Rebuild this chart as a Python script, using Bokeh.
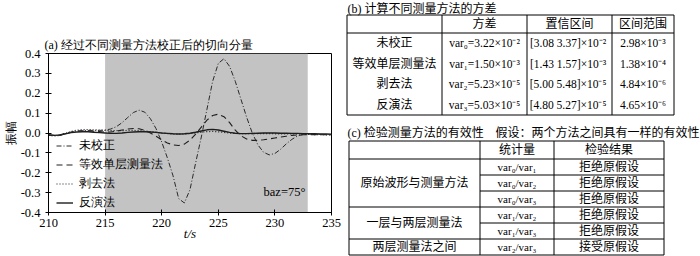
from bokeh.plotting import figure
from bokeh.models import (Range1d, FixedTicker, BoxAnnotation, Label, Legend,
                          LegendItem, ColumnDataSource, PrintfTickFormatter, Title)
from bokeh.layouts import row
from bokeh.core.properties import value
from bokeh.embed import file_html
from bokeh.resources import INLINE

# ---------------- data: panel (a) ----------------
t = [210.0, 210.5, 211.0, 211.5, 212.0, 212.5, 213.0, 213.5, 214.0, 214.5,
     215.0, 215.5, 216.0, 216.5, 217.0, 217.5, 218.0, 218.5, 219.0, 219.5,
     220.0, 220.5, 221.0, 221.5, 222.0, 222.5, 223.0, 223.5, 224.0, 224.5,
     225.0, 225.5, 226.0, 226.5, 227.0, 227.5, 228.0, 228.5, 229.0, 229.5,
     230.0, 230.5, 231.0, 231.5, 232.0, 232.5, 233.0, 233.5, 234.0, 234.5,
     235.0]

uncorrected = [-0.010, -0.013, -0.012, -0.004, 0.005, 0.010, 0.012, 0.013, 0.013, 0.013,
               0.015, 0.020, 0.032, 0.052, 0.078, 0.103, 0.115, 0.105, 0.072, 0.022,
               -0.045, -0.125, -0.215, -0.330, -0.352, -0.285, -0.150, -0.020, 0.120, 0.260,
               0.350, 0.374, 0.335, 0.260, 0.170, 0.080, 0.000, -0.060, -0.097, -0.110,
               -0.103, -0.082, -0.055, -0.032, -0.015, -0.007, -0.005, -0.006, -0.007, -0.008,
               -0.009]

single_layer = [-0.010, -0.012, -0.010, -0.003, 0.004, 0.008, 0.010, 0.010, 0.009, 0.007,
                0.005, 0.005, 0.009, 0.015, 0.020, 0.023, 0.021, 0.013, 0.000, -0.016,
                -0.034, -0.050, -0.060, -0.063, -0.056, -0.036, -0.006, 0.030, 0.065, 0.088,
                0.095, 0.082, 0.052, 0.014, -0.014, -0.030, -0.037, -0.037, -0.034, -0.030,
                -0.025, -0.020, -0.016, -0.012, -0.010, -0.009, -0.008, -0.008, -0.008, -0.009,
                -0.009]

stripping = [-0.012, -0.015, -0.012, -0.002, 0.008, 0.014, 0.017, 0.017, 0.016, 0.015,
             0.013, 0.012, 0.012, 0.012, 0.013, 0.013, 0.012, 0.010, 0.007, 0.004,
             0.000, -0.003, -0.005, -0.006, -0.005, -0.003, 0.000, 0.004, 0.007, 0.008,
             0.006, 0.003, 0.000, -0.002, -0.003, -0.003, -0.003, -0.003, -0.003, -0.003,
             -0.004, -0.004, -0.004, -0.005, -0.005, -0.006, -0.007, -0.008, -0.008, -0.009,
             -0.010]

inversion = [-0.010, -0.012, -0.010, -0.004, 0.002, 0.005, 0.006, 0.006, 0.004, 0.002,
             0.000, -0.002, -0.002, 0.000, 0.003, 0.005, 0.006, 0.006, 0.005, 0.003,
             0.000, -0.002, -0.004, -0.005, -0.004, -0.001, 0.004, 0.010, 0.016, 0.018,
             0.015, 0.009, 0.003, -0.001, -0.003, -0.003, -0.002, -0.001, 0.000, 0.000,
             0.000, -0.001, -0.001, -0.002, -0.002, -0.003, -0.004, -0.004, -0.005, -0.005,
             -0.006]

series_names = ["未校正", "等效单层测量法", "剥去法", "反演法"]
x_ticks = [210, 215, 220, 225, 230, 235]
y_ticks = [-0.4, -0.3, -0.2, -0.1, 0.0, 0.1, 0.2, 0.3, 0.4]
shade_start, shade_end = 215.0, 232.9
baz_text = "baz=75°"
title_a = "(a) 经过不同测量方法校正后的切向分量"
y_label = "振幅"
x_label = "t/s"

# ---------------- data: table (b) ----------------
title_b = "(b) 计算不同测量方法的方差"
b_header = ["方差", "置信区间", "区间范围"]
methods = ["未校正", "等效单层测量法", "剥去法", "反演法"]
var_mant = [3.22, 1.50, 5.23, 5.03]
var_exp = [-2, -3, -5, -5]
ci_lo = [3.08, 1.43, 5.00, 4.80]
ci_hi = [3.37, 1.57, 5.48, 5.27]
rng_mant = [2.98, 1.38, 4.84, 4.65]
rng_exp = [-3, -4, -6, -6]

# ---------------- data: table (c) ----------------
title_c1 = "(c) 检验测量方法的有效性"
title_c2 = "假设：两个方法之间具有一样的有效性"
c_header = ["统计量", "检验结果"]
groups = ["原始波形与测量方法", "一层与两层测量法", "两层测量法之间"]
group_rows = [3, 2, 1]
pairs = [(0, 1), (0, 2), (0, 3), (1, 2), (1, 3), (2, 3)]
results = ["拒绝原假设", "拒绝原假设", "拒绝原假设", "拒绝原假设", "拒绝原假设", "接受原假设"]

SERIF = "Liberation Serif"
SERIF_LIST = "Liberation Serif, Noto Sans CJK SC"
INK = "#1e1e1e"
H = 256

SUP = str.maketrans("-0123456789", "⁻⁰¹²³⁴⁵⁶⁷⁸⁹")
SUB = str.maketrans("0123456789", "₀₁₂₃₄₅₆₇₈₉")


def sup(n):
    return str(n).translate(SUP)


def sub(n):
    return str(n).translate(SUB)


# =============== panel (a) ===============
pa = figure(width=344, height=H, x_range=Range1d(210, 235), y_range=Range1d(-0.4, 0.4),
            output_backend="svg", toolbar_location=None,
            min_border_left=42, min_border_right=13, min_border_top=53, min_border_bottom=44)
pa.frame_align = False
pa.title = Title(text=title_a, align="left", offset=-4, standoff=4,
                 text_font=SERIF, text_font_size="12px", text_font_style="normal",
                 text_color="black")
pa.grid.visible = False
pa.outline_line_color = "black"
pa.outline_line_alpha = 1.0

pa.xaxis.ticker = FixedTicker(ticks=x_ticks)
pa.yaxis.ticker = FixedTicker(ticks=y_ticks)
pa.yaxis.formatter = PrintfTickFormatter(format="%.1f")
for ax in (pa.xaxis[0], pa.yaxis[0]):
    ax.axis_line_color = "black"
    ax.major_tick_line_color = "black"
    ax.major_tick_in = 3
    ax.major_tick_out = 3
    ax.minor_tick_line_color = None
    ax.major_label_text_font = SERIF
    ax.major_label_text_font_size = "12.5px"
    ax.major_label_text_color = "black"
    ax.axis_label_text_font = SERIF
    ax.axis_label_text_font_size = "12px"
    ax.axis_label_text_color = "black"
pa.xaxis.major_label_standoff = 3
pa.yaxis.major_label_standoff = 5
pa.yaxis.axis_label = y_label
pa.yaxis.axis_label_standoff = 0
pa.yaxis.axis_label_text_font_style = "normal"
pa.xaxis.axis_label = x_label
pa.xaxis.axis_label_standoff = -4
pa.xaxis.axis_label_text_font_style = "italic"
pa.xaxis.axis_label_text_font_size = "13px"

pa.add_layout(BoxAnnotation(left=shade_start, right=shade_end, fill_color="#c3c3c3",
                            fill_alpha=1.0, line_color=None, level="underlay"))

src = ColumnDataSource(dict(t=t, u=uncorrected, s=single_layer, p=stripping, v=inversion))
r_v = pa.line("t", "v", source=src, line_color=INK, line_width=1.4)
r_p = pa.line("t", "p", source=src, line_color=INK, line_width=1.2, line_dash="1 2")
r_s = pa.line("t", "s", source=src, line_color=INK, line_width=1.1, line_dash="6 4")
r_u = pa.line("t", "u", source=src, line_color="#2a2a2a", line_width=1.0, line_dash="5 2 1 2")

legend = Legend(items=[LegendItem(label=n, renderers=[r]) for n, r in
                       zip(series_names, [r_u, r_s, r_p, r_v])],
                location=(8, 0), glyph_width=17, glyph_height=19, label_height=19,
                label_standoff=6, spacing=0, padding=0, margin=0,
                background_fill_alpha=0, border_line_alpha=0,
                label_text_font=SERIF, label_text_font_size="12px", label_text_color="black")
pa.add_layout(legend)

pa.add_layout(Label(x=232.7, y=-0.295, text=baz_text, text_align="right", text_baseline="middle",
                    text_font=SERIF, text_font_size="12.5px", text_color="black"))

# =============== tables (b) and (c) ===============
TW = 356
pt = figure(width=TW, height=H, x_range=Range1d(0, TW), y_range=Range1d(H, 0),
            output_backend="svg", toolbar_location=None,
            x_axis_location=None, y_axis_location=None, min_border=0)
pt.frame_align = False
pt.grid.visible = False
pt.outline_line_color = None

x0s, y0s, x1s, y1s = [], [], [], []


def seg(xa, ya, xb, yb):
    x0s.append(xa); y0s.append(ya); x1s.append(xb); y1s.append(yb)


texts = dict(x=[], y=[], text=[], align=[], size=[])


def txt(x, y, s, align="center", size="12px"):
    texts["x"].append(x); texts["y"].append(y); texts["text"].append(s)
    texts["align"].append(align); texts["size"].append(size)


# table (b) layout
bx = [2.5, 97.5, 182.5, 267.5, 329.5]
b_top, b_head, b_row = 14.5, 32.5, 20.5
b_bot = b_head + b_row * len(methods)
seg(bx[0], b_top, bx[-1], b_top)
seg(bx[0], b_head, bx[-1], b_head)
seg(bx[0], b_bot, bx[-1], b_bot)
for xx in bx:
    seg(xx, b_top, xx, b_bot)
txt(3, 8, title_b, "left", "12px")
bc = [(bx[i] + bx[i + 1]) / 2 for i in range(4)]
for j, h in enumerate(b_header):
    txt(bc[j + 1], (b_top + b_head) / 2, h)
for i in range(len(methods)):
    yc = b_head + b_row * (i + 0.5)
    txt(bc[0], yc, methods[i])
    txt(bc[1], yc, f"var{sub(i)}={var_mant[i]:.2f}×10{sup(var_exp[i])}", size="11.5px")
    txt(bc[2], yc, f"[{ci_lo[i]:.2f}  {ci_hi[i]:.2f}]×10{sup(var_exp[i])}", size="11.5px")
    txt(bc[3], yc, f"{rng_mant[i]:.2f}×10{sup(rng_exp[i])}", size="11.5px")

# table (c) layout
cx = [4.5, 135.5, 209.5, 319.5]
c_top, c_head = 140.5, 158.5
c_lines = [158.5, 174.5, 190.5, 206.5, 222.5, 238.5, 254.5]
txt(3, 132, title_c1, "left", "12px")
txt(151, 132, title_c2, "left", "12px")
seg(cx[0], c_top, cx[-1], c_top)
seg(cx[0], c_head, cx[-1], c_head)
seg(cx[0], c_lines[-1], cx[-1], c_lines[-1])
for xx in cx:
    seg(xx, c_top, xx, c_lines[-1])
cc = [(cx[i] + cx[i + 1]) / 2 for i in range(3)]
for j, h in enumerate(c_header):
    txt(cc[j + 1], (c_top + c_head) / 2, h)
k = 0
for g, n in zip(groups, group_rows):
    ys, ye = c_lines[k], c_lines[k + n]
    if k + n < len(c_lines) - 1:
        seg(cx[0], ye, cx[-1], ye)
    txt(cc[0], (ys + ye) / 2, g)
    for m in range(n):
        r0, r1 = c_lines[k + m], c_lines[k + m + 1]
        if m < n - 1:
            seg(cx[1], r1, cx[-1], r1)
        a, b = pairs[k + m]
        txt(cc[1], (r0 + r1) / 2, f"var{sub(a)}/var{sub(b)}", size="11px")
        txt(cc[2], (r0 + r1) / 2, results[k + m])
    k += n

pt.segment(x0=x0s, y0=y0s, x1=x1s, y1=y1s, line_color="black", line_width=1)
pt.text(x="x", y="y", text="text", source=ColumnDataSource(texts),
        text_align="align", text_baseline="middle", text_font=value(SERIF_LIST),
        text_font_size="size", text_color="black")

layout = row(pa, pt)
open("out.html", "w").write(file_html(layout, INLINE))
